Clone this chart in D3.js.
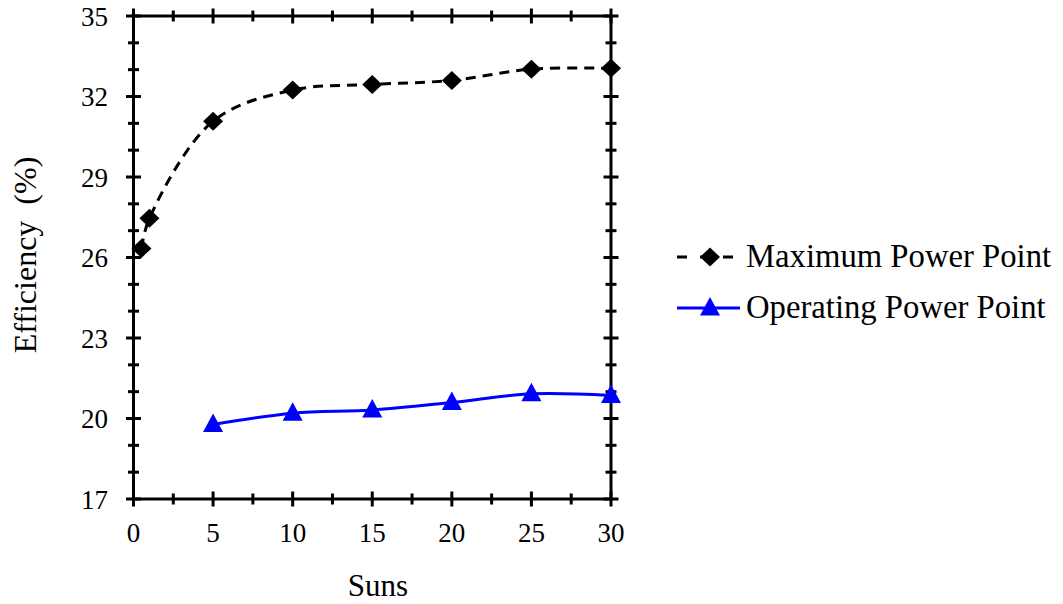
<!DOCTYPE html>
<html>
<head>
<meta charset="utf-8">
<script src="https://cdn.jsdelivr.net/npm/d3@7"></script>
<style>
  html, body { margin: 0; padding: 0; background: #fff; }
  svg { display: block; }
  text { font-family: "Liberation Serif", "Times New Roman", serif; fill: #000; }
</style>
</head>
<body>
<svg id="chart" width="1063" height="604"></svg>
<script>
// Efficiency vs. concentration (suns)
const maxSuns = [0.5, 1, 5, 10, 15, 20, 25, 30];
const maxEff  = [26.34, 27.46, 31.08, 32.24, 32.45, 32.6, 33.02, 33.05];
const opSuns  = [5, 10, 15, 20, 25, 30];
const opEff   = [19.78, 20.2, 20.32, 20.6, 20.92, 20.86];

const xMajorTicks = [0, 5, 10, 15, 20, 25, 30];
const xMinorTicks = [2.5, 7.5, 12.5, 17.5, 22.5, 27.5];
const yMajorTicks = [17, 20, 23, 26, 29, 32, 35];
const yMinorTicks = [18, 19, 21, 22, 24, 25, 27, 28, 30, 31, 33, 34];

const seriesNames = ["Maximum Power Point", "Operating Power Point"];

const FONT = "'Liberation Serif', 'Times New Roman', serif";
const svg = d3.select("#chart");

const x = d3.scaleLinear().domain([0, 30]).range([133.5, 611]);
const y = d3.scaleLinear().domain([17, 35]).range([499, 16]);

const axisColor = "#000";
const axisW = 3;

// frame
const frame = svg.append("g");
frame.append("rect")
  .attr("x", x(0)).attr("y", y(35))
  .attr("width", x(30) - x(0)).attr("height", y(17) - y(35))
  .attr("fill", "none").attr("stroke", axisColor).attr("stroke-width", axisW);

// tick marks crossing every side of the frame
function vTicks(vals, half) {
  [y(17), y(35)].forEach(yy => {
    frame.selectAll(null).data(vals).enter().append("line")
      .attr("x1", d => x(d)).attr("x2", d => x(d))
      .attr("y1", yy - half).attr("y2", yy + half)
      .attr("stroke", axisColor).attr("stroke-width", axisW);
  });
}
function hTicks(vals, half) {
  [x(0), x(30)].forEach(xx => {
    frame.selectAll(null).data(vals).enter().append("line")
      .attr("y1", d => y(d)).attr("y2", d => y(d))
      .attr("x1", xx - half).attr("x2", xx + half)
      .attr("stroke", axisColor).attr("stroke-width", axisW);
  });
}
vTicks(xMajorTicks, 7.5);
vTicks(xMinorTicks, 5.5);
hTicks(yMajorTicks, 7.5);
hTicks(yMinorTicks, 5.5);

// tick labels
svg.append("g").selectAll("text").data(xMajorTicks).enter().append("text")
  .attr("x", d => x(d)).attr("y", 542)
  .attr("text-anchor", "middle").attr("font-size", 27).attr("font-family", FONT)
  .text(d => d);
svg.append("g").selectAll("text").data(yMajorTicks).enter().append("text")
  .attr("x", 108).attr("y", d => y(d) + 9.5)
  .attr("text-anchor", "end").attr("font-size", 27).attr("font-family", FONT)
  .text(d => d);

// axis titles
svg.append("text")
  .attr("x", 378).attr("y", 596)
  .attr("text-anchor", "middle").attr("font-size", 31).attr("font-family", FONT)
  .text("Suns");
svg.append("text")
  .attr("transform", "translate(36,255) rotate(-90)")
  .attr("text-anchor", "middle").attr("font-size", 32).attr("font-family", FONT)
  .attr("xml:space", "preserve")
  .text("Efficiency  (%)");

// series
const curve = d3.curveCatmullRom.alpha(0.5);
const line = d3.line().x(d => x(d[0])).y(d => y(d[1])).curve(curve);

const maxData = maxSuns.map((s, i) => [s, maxEff[i]]);
const opData = opSuns.map((s, i) => [s, opEff[i]]);

svg.append("path").datum(maxData)
  .attr("d", line).attr("fill", "none")
  .attr("stroke", "#000").attr("stroke-width", 3)
  .attr("stroke-dasharray", "10,7");

svg.append("path").datum(opData)
  .attr("d", line).attr("fill", "none")
  .attr("stroke", "#0000ff").attr("stroke-width", 3);

const diamond = "M0,-9.5L10,0L0,9.5L-10,0Z";
const triangle = "M0,-11L10,7.5L-10,7.5Z";

svg.append("g").selectAll("path").data(maxData).enter().append("path")
  .attr("d", diamond)
  .attr("transform", d => `translate(${x(d[0])},${y(d[1])})`)
  .attr("fill", "#000");

svg.append("g").selectAll("path").data(opData).enter().append("path")
  .attr("d", triangle)
  .attr("transform", d => `translate(${x(d[0])},${y(d[1])})`)
  .attr("fill", "#0000ff");

// legend
const legend = svg.append("g");
const rows = [
  { name: seriesNames[0], y: 257, color: "#000", dash: "10,13", shape: diamond },
  { name: seriesNames[1], y: 308, color: "#0000ff", dash: null, shape: triangle }
];
rows.forEach(r => {
  legend.append("line")
    .attr("x1", 677).attr("x2", 740).attr("y1", r.y).attr("y2", r.y)
    .attr("stroke", r.color).attr("stroke-width", 3)
    .attr("stroke-dasharray", r.dash);
  legend.append("path").attr("d", r.shape)
    .attr("transform", `translate(710,${r.y})`)
    .attr("fill", r.color);
  legend.append("text")
    .attr("x", 746).attr("y", r.y + 10)
    .attr("font-size", 32.7).attr("font-family", FONT)
    .text(r.name);
});
</script>
</body>
</html>
